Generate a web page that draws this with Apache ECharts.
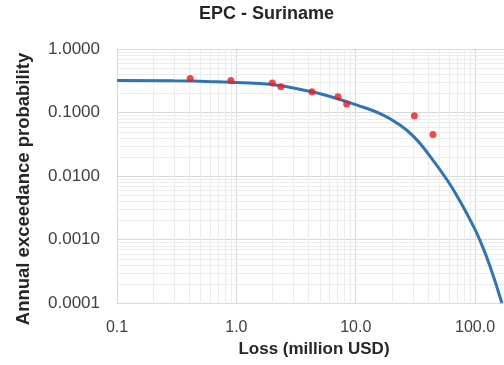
<!DOCTYPE html>
<html>
<head>
<meta charset="utf-8">
<script src="https://cdn.jsdelivr.net/npm/echarts@6/dist/echarts.min.js"></script>
<style>
html,body{margin:0;padding:0;background:#fff;}
#chart{width:504px;height:365px;}
</style>
</head>
<body>
<div id="chart"></div>
<script>
// Fitted EP curve
const curveLoss = [0.1, 0.3, 0.68, 1.0, 1.9, 4.1, 6.1, 11.6, 16.0, 22.1, 30.5, 42.0, 58.9, 73.6, 97, 110.4, 133.8, 167.7];
const curveProb = [0.32, 0.315, 0.305, 0.296, 0.278, 0.215, 0.179, 0.121, 0.0957, 0.0684, 0.042, 0.0204, 0.00843, 0.00422, 0.00161, 0.000947, 0.000373, 0.0001];
// Empirical points
const pointLoss = [0.41, 0.90, 2.0, 2.36, 4.3, 7.1, 8.4, 31, 44.4];
const pointProb = [0.344, 0.318, 0.291, 0.255, 0.213, 0.177, 0.136, 0.089, 0.045];
// Axis settings
const xMin = 0.1, xMax = 200;
const yMin = 0.0001, yMax = 1;
const xMinor = [0.2,0.3,0.4,0.5,0.6,0.7,0.8,0.9,2,3,4,5,6,7,8,9,20,30,40,50,60,70,80,90];
const yMinor = [];
[0.0001,0.001,0.01,0.1].forEach(d => { for (let k = 2; k <= 9; k++) yMinor.push(+(d*k).toPrecision(3)); });

const font = '"Liberation Sans", Arial, sans-serif';
const chart = echarts.init(document.getElementById('chart'), null, {renderer:'canvas'});

const minorData = xMinor.map(v => [v, yMin, 0]).concat(yMinor.map(v => [xMin, v, 1]));

chart.setOption({
  animation: false,
  backgroundColor: '#ffffff',
  title: {
    text: 'EPC - Suriname',
    left: 199, top: 5, padding: 0,
    textStyle: {fontFamily: font, fontSize: 18, fontWeight: 'bold', color: '#262626'}
  },
  grid: {left: 117, top: 49, height: 254, width: 394, containLabel: false, outerBoundsMode: 'none'},
  xAxis: {
    type: 'log', logBase: 10, min: xMin, max: xMax,
    name: 'Loss (million USD)', nameLocation: 'middle', nameGap: 33,
    nameTextStyle: {fontFamily: font, fontSize: 17, fontWeight: 'bold', color: '#262626'},
    axisLine: {show: true, lineStyle: {color: '#d9d9d9', width: 1}},
    axisTick: {show: false},
    axisLabel: {fontFamily: font, fontSize: 16, color: '#404040', margin: 17, showMaxLabel: false,
      formatter: v => v.toFixed(1)},
    splitLine: {show: true, lineStyle: {color: '#d9d9d9', width: 1}}
  },
  yAxis: {
    type: 'log', logBase: 10, min: yMin, max: yMax,
    name: 'Annual exceedance probability', nameLocation: 'middle', nameGap: 84,
    nameTextStyle: {fontFamily: font, fontSize: 18.5, fontWeight: 'bold', color: '#262626', padding: [0, 26, 0, 0]},
    axisLine: {show: true, lineStyle: {color: '#d9d9d9', width: 1}},
    axisTick: {show: false},
    axisLabel: {fontFamily: font, fontSize: 17, color: '#404040', margin: 17,
      formatter: v => v.toFixed(4)},
    splitLine: {show: true, lineStyle: {color: '#d9d9d9', width: 1}}
  },
  series: [
    {
      type: 'custom', z: 1, silent: true,
      data: minorData,
      renderItem: function (params, api) {
        const isY = api.value(2) === 1;
        let p1, p2;
        if (!isY) {
          p1 = api.coord([api.value(0), yMin]);
          p2 = api.coord([api.value(0), yMax]);
        } else {
          p1 = api.coord([xMin, api.value(1)]);
          p2 = api.coord([xMax, api.value(1)]);
        }
        const x1 = Math.round(p1[0]) + 0.5, y1 = Math.round(p1[1]) + 0.5;
        const x2 = Math.round(p2[0]) + 0.5, y2 = Math.round(p2[1]) + 0.5;
        return {
          type: 'line',
          shape: isY ? {x1: x1, y1: y1, x2: x2, y2: y1} : {x1: x1, y1: y1, x2: x1, y2: y2},
          style: {stroke: '#ececec', lineWidth: 1}
        };
      }
    },
    {
      type: 'line', z: 3,
      data: curveLoss.map((x, i) => [x, curveProb[i]]),
      smooth: 0.5, showSymbol: false, symbol: 'none',
      lineStyle: {color: '#2e75b6', width: 3},
      clip: true
    },
    {
      type: 'scatter', z: 4,
      data: pointLoss.map((x, i) => [x, pointProb[i]]),
      symbol: 'circle', symbolSize: 7,
      itemStyle: {color: '#ee1c1c'}
    }
  ]
});
</script>
</body>
</html>
